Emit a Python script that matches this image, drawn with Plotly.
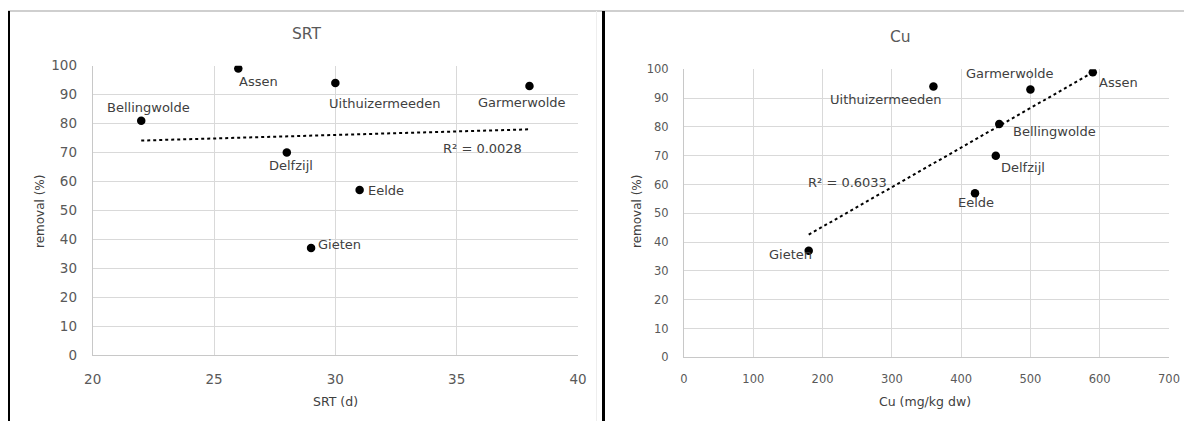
import numpy as np
import plotly.graph_objects as go

W, H = 1184, 421

# ---- data ----
plants = ["Bellingwolde", "Assen", "Delfzijl", "Uithuizermeeden", "Garmerwolde", "Eelde", "Gieten"]
removal = [81, 99, 70, 94, 93, 57, 37]
srt_days = [22, 26, 28, 30, 38, 31, 29]
cu_mgkg = [455, 590, 450, 360, 500, 420, 180]
r2_srt_text = "R² = 0.0028"
r2_cu_text = "R² = 0.6033"
y_ticks = [0, 10, 20, 30, 40, 50, 60, 70, 80, 90, 100]
srt_ticks = [20, 25, 30, 35, 40]
cu_ticks = [0, 100, 200, 300, 400, 500, 600, 700]

# ---- label offsets (pixels) ----
srt_label_shift = {
    "Bellingwolde": (7, 13, "center"),
    "Assen": (20, -13, "center"),
    "Delfzijl": (4, -13, "center"),
    "Uithuizermeeden": (49, -20, "center"),
    "Garmerwolde": (-7, -17, "center"),
    "Eelde": (6, 0, "left"),
    "Gieten": (5, 3, "left"),
}
cu_label_shift = {
    "Bellingwolde": (55, -7, "center"),
    "Assen": (26, -10, "center"),
    "Delfzijl": (27, -12, "center"),
    "Uithuizermeeden": (-48, -13, "center"),
    "Garmerwolde": (-20, 16, "center"),
    "Eelde": (1, -9, "center"),
    "Gieten": (-18, -4, "center"),
}

FONT = "DejaVu Sans"
LBL = "#404040"
TCK = "#595959"
GRID = "#d9d9d9"

def px_x(p):
    return p / W

def px_y(p):
    return 1 - p / H

fig = go.Figure()

# scatter points
fig.add_trace(go.Scatter(x=srt_days, y=removal, mode="markers",
                         marker=dict(color="black", size=8.5), xaxis="x", yaxis="y",
                         showlegend=False, hoverinfo="skip"))
fig.add_trace(go.Scatter(x=cu_mgkg, y=removal, mode="markers",
                         marker=dict(color="black", size=8.5), xaxis="x2", yaxis="y2",
                         showlegend=False, hoverinfo="skip"))

# trendlines (least squares from data)
def trend(xs, ys):
    k, b = np.polyfit(xs, ys, 1)
    xe = [min(xs), max(xs)]
    return xe, [k * v + b for v in xe]

tx1, ty1 = trend(srt_days, removal)
tx2, ty2 = trend(cu_mgkg, removal)
fig.add_trace(go.Scatter(x=tx1, y=ty1, mode="lines", line=dict(color="black", width=2, dash="dot"),
                         xaxis="x", yaxis="y", showlegend=False, hoverinfo="skip"))
fig.add_trace(go.Scatter(x=tx2, y=ty2, mode="lines", line=dict(color="black", width=2, dash="dot"),
                         xaxis="x2", yaxis="y2", showlegend=False, hoverinfo="skip"))

ann = []
for name, xv, yv in zip(plants, srt_days, removal):
    dx, dy, anc = srt_label_shift[name]
    ann.append(dict(x=xv, y=yv, xref="x", yref="y", text=name, showarrow=False,
                    xshift=dx, yshift=dy, xanchor=anc, yanchor="middle",
                    font=dict(family=FONT, size=13, color=LBL)))
for name, xv, yv in zip(plants, cu_mgkg, removal):
    dx, dy, anc = cu_label_shift[name]
    ann.append(dict(x=xv, y=yv, xref="x2", yref="y2", text=name, showarrow=False,
                    xshift=dx, yshift=dy, xanchor=anc, yanchor="middle",
                    font=dict(family=FONT, size=13, color=LBL)))
# R² labels tied to trendline ends
ann.append(dict(x=tx1[1], y=ty1[1], xref="x", yref="y", text=r2_srt_text, showarrow=False,
                xshift=-47, yshift=-19, xanchor="center", yanchor="middle",
                font=dict(family=FONT, size=13, color=LBL)))
ann.append(dict(x=tx2[0], y=ty2[0], xref="x2", yref="y2", text=r2_cu_text, showarrow=False,
                xshift=39, yshift=52, xanchor="center", yanchor="middle",
                font=dict(family=FONT, size=13, color=LBL)))

def paper_text(xp, yp, text, size, color, angle=0):
    return dict(x=px_x(xp), y=px_y(yp), xref="paper", yref="paper", text=text, showarrow=False,
                xanchor="center", yanchor="middle", textangle=angle,
                font=dict(family=FONT, size=size, color=color))

# titles
ann.append(paper_text(306, 34, "SRT", 15.5, TCK))
ann.append(paper_text(900, 37, "Cu", 15.5, TCK))
# axis titles
ann.append(paper_text(335, 401, "SRT (d)", 12.5, LBL))
ann.append(paper_text(925, 401, "Cu (mg/kg dw)", 12.5, LBL))
ann.append(paper_text(40, 212, "removal (%)", 12, LBL, -90))
ann.append(paper_text(637, 212, "removal (%)", 12, LBL, -90))

shapes = [
    dict(type="line", xref="paper", yref="paper", x0=px_x(8), x1=1, y0=px_y(11), y1=px_y(11),
         line=dict(color="#bfbfbf", width=1.5)),
    dict(type="line", xref="paper", yref="paper", x0=px_x(9), x1=px_x(9), y0=px_y(11), y1=0,
         line=dict(color="black", width=2)),
    dict(type="line", xref="paper", yref="paper", x0=px_x(596.5), x1=px_x(596.5), y0=px_y(11), y1=0,
         line=dict(color="#eeeeee", width=1)),
    dict(type="line", xref="paper", yref="paper", x0=px_x(603.5), x1=px_x(603.5), y0=px_y(11), y1=0,
         line=dict(color="black", width=3)),
]

axcommon = dict(showgrid=True, gridcolor=GRID, gridwidth=1, zeroline=False, showline=True,
                linecolor="#c8c8c8", linewidth=1, ticks="", fixedrange=True, automargin=False)

fig.update_layout(
    width=W, height=H, margin=dict(l=0, r=0, t=0, b=0, pad=0, autoexpand=False),
    paper_bgcolor="white", plot_bgcolor="white", showlegend=False,
    annotations=ann, shapes=shapes,
    xaxis=dict(domain=[px_x(92.7), px_x(578)], range=[20, 40], tickvals=srt_ticks,
               anchor="y", ticklabelstandoff=12,
               tickfont=dict(family=FONT, size=13.5, color=TCK), **axcommon),
    yaxis=dict(domain=[px_y(355), px_y(65.7)], range=[0, 100], tickvals=y_ticks,
               anchor="x", ticklabelstandoff=12,
               tickfont=dict(family=FONT, size=13.5, color=TCK), **axcommon),
    xaxis2=dict(domain=[px_x(684), px_x(1169)], range=[0, 700], tickvals=cu_ticks,
                anchor="y2", ticklabelstandoff=11,
                tickfont=dict(family=FONT, size=11.5, color=TCK), **axcommon),
    yaxis2=dict(domain=[px_y(357.3), px_y(69.3)], range=[0, 100], tickvals=y_ticks,
                anchor="x2", ticklabelstandoff=12,
                tickfont=dict(family=FONT, size=11.5, color=TCK), **axcommon),
)

fig.write_html("out.html")
